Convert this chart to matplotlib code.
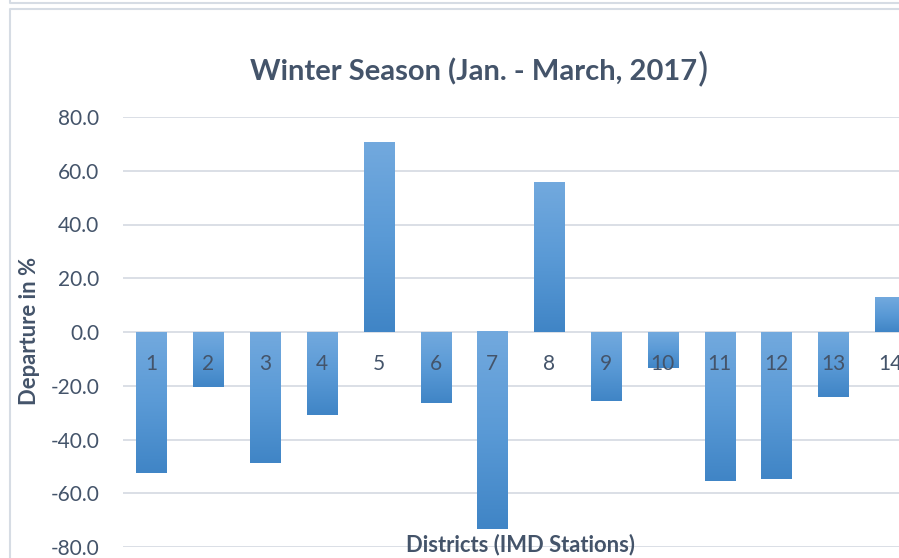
import numpy as np
import matplotlib
matplotlib.use('Agg')
import matplotlib.pyplot as plt
from matplotlib.colors import LinearSegmentedColormap
from matplotlib.lines import Line2D

# winter season rainfall departure per district
districts = ['1', '2', '3', '4', '5', '6', '7', '8', '9', '10', '11', '12', '13', '14']
departure = [-52.4, -20.4, -48.7, -30.8, 70.4, -26.3, -73.4, 55.5, -25.6, -13.3, -55.4, -54.6, -24.1, 13.0]
y_ticks = [-80, -60, -40, -20, 0, 20, 40, 60, 80]

plt.rcParams['font.family'] = ['Lato', 'DejaVu Sans']
txt = '#44546a'
grid_col = '#dadfe6'

W, H = 899, 558
fig = plt.figure(figsize=(W / 100, H / 100), dpi=100)
step = 56.83  # px per category
ax = fig.add_axes([123 / W, (H - 547) / H, (W - 123) / W, 430 / H])

x = np.arange(1, len(districts) + 1)
bars = ax.bar(x, departure, width=0.53, color='#5b9bd5', zorder=2)

# excel-like vertical gradient on the bars
cmap = LinearSegmentedColormap.from_list('bar', ['#72a9de', '#5a9ad6', '#4085c6'])
grad = np.linspace(0, 1, 100).reshape(-1, 1)
for b in bars:
    x0, w = b.get_x(), b.get_width()
    y0, h = b.get_y(), b.get_height()
    ax.imshow(grad, cmap=cmap, aspect='auto', origin='upper',
              extent=(x0, x0 + w, min(y0, y0 + h), max(y0, y0 + h)), zorder=3)

ax.set_xlim(0.5, 0.5 + (W - 123) / step)
ax.set_ylim(-80, 80)
ax.set_xticks([])
ax.set_yticks(y_ticks)
ax.set_yticklabels(['%.1f' % v for v in y_ticks])
ax.tick_params(axis='y', length=0, pad=17, labelsize=15, labelcolor=txt)
ax.yaxis.grid(True, color=grid_col, lw=1.4, zorder=0)
ax.set_axisbelow(True)
for s in ax.spines.values():
    s.set_visible(False)

# category labels sit just under the zero line
for xi, lab in zip(x, districts):
    ax.annotate(lab, (xi, 0), xytext=(0, -32), textcoords='offset pixels',
                ha='center', va='center', fontsize=15, color=txt, zorder=5,
                annotation_clip=False)

fig.text(30 / W, 1 - 331 / H, 'Departure in %', rotation=90, ha='center', va='center',
         fontsize=15.8, fontweight='bold', color=txt)
fig.text(520 / W, 1 - 545 / H, 'Districts (IMD Stations)', ha='center', va='center',
         fontsize=15.8, fontweight='bold', color=txt)

# title, with the oversized closing bracket
fig.text(697 / W, 1 - 80 / H, 'Winter Season (Jan. - March, 2017', ha='right', va='baseline',
         fontsize=21, fontweight='bold', color=txt)
fig.text(698 / W, 1 - 80 / H, ')', ha='left', va='baseline',
         fontsize=28, color=txt)

# chart frame bits
def fline(xs, ys):
    fig.add_artist(Line2D([v / W for v in xs], [1 - v / H for v in ys],
                          color='#d6dce4', lw=1.5))

fline([10, 10, W], [0, 3, 3])
fline([10, 10, W], [H, 9, 9])

fig.savefig('out.png', dpi=100)
